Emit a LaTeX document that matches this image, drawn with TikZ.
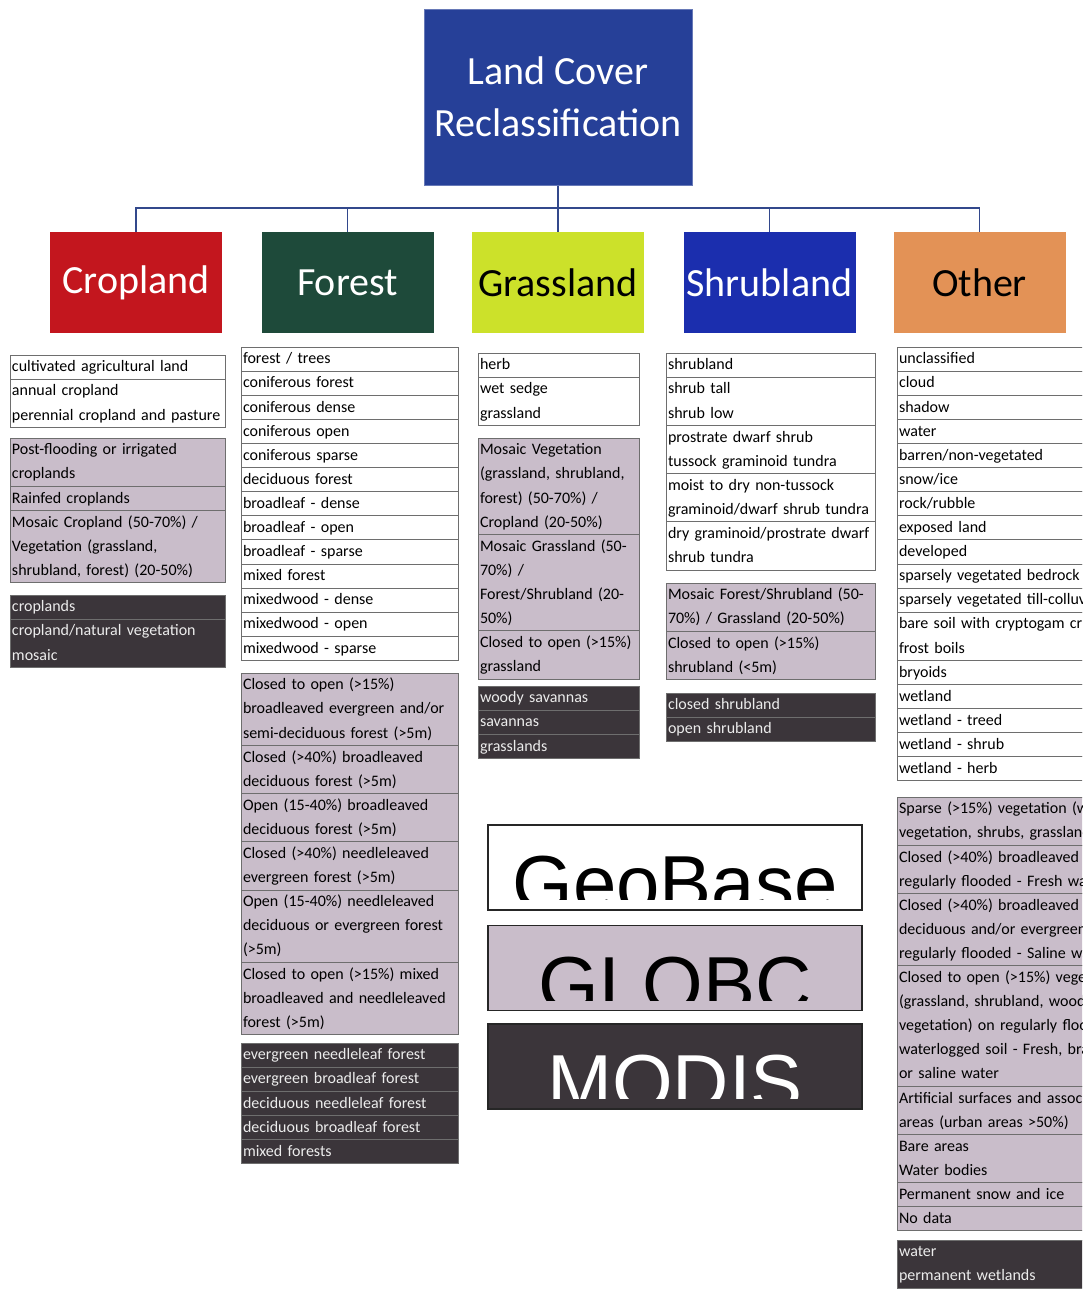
\documentclass[tikz,border=0pt]{standalone}
\usepackage{fontspec}
\setmainfont{Carlito}
\newfontfamily\legendfont{Liberation Sans}
\usepackage{xcolor}
\usepackage{tikz}
\usetikzlibrary{positioning}

\definecolor{titleblue}{RGB}{38,64,152}
\definecolor{linkblue}{RGB}{50,72,140}
\definecolor{cropred}{RGB}{195,22,30}
\definecolor{forestdark}{RGB}{30,74,58}
\definecolor{grasslime}{RGB}{204,225,42}
\definecolor{shrubblue}{RGB}{27,46,174}
\definecolor{otherorange}{RGB}{227,146,86}
\definecolor{globmauve}{RGB}{201,189,202}
\definecolor{modisdark}{RGB}{59,53,58}
\definecolor{celledge}{RGB}{110,110,110}
\definecolor{modistext}{RGB}{236,236,236}

\newcommand{\cellsize}{\fontsize{16}{24.1}\selectfont}

\begin{document}
\begin{tikzpicture}[x=1pt, y=-1pt,
    cell/.style={draw=celledge, line width=0.7pt, outer sep=0pt, inner xsep=2pt, inner ysep=0pt,
      align=left, font=\cellsize, execute at begin node=\strut, execute at end node=\strut},
    whitecell/.style={cell, fill=white, text=black},
    mauvecell/.style={cell, fill=globmauve, text=black},
    darkcell/.style={cell, fill=modisdark, text=modistext},
    cropcol/.style={text width=211pt},
    forestcol/.style={text width=213pt},
    grasscol/.style={text width=157pt},
    shrubcol/.style={text width=205pt},
    othercol/.style={text width=300pt},
    class/.style={minimum width=172pt, minimum height=101pt, inner sep=0pt, font=\fontsize{40}{48}\selectfont},
    link/.style={draw=linkblue, line width=1.4pt},
    legend/.style={minimum width=374pt, minimum height=85pt, inner sep=0pt, draw=black!85, line width=1.3pt}
  ]
    \useasboundingbox (0,0) rectangle (1082,1293);
    \clip (0,0) rectangle (1082,1293);

    % Title and the five classes
    \node[class, fill=titleblue, draw=titleblue!70!white, line width=1pt, text=white,
      minimum width=268pt, minimum height=176pt, align=center,
      font=\fontsize{40}{52}\selectfont] (title) at (558,97) {Land Cover\\Reclassification};
    \node[class, fill=cropred, text=white] (crop) at (136,282.5) {Cropland};
    \node[class, fill=forestdark, text=white] (forest) at (347.5,282.5) {Forest};
    \node[class, fill=grasslime] (grass) at (558,282.5) {Grassland};
    \node[class, fill=shrubblue, text=white] (shrub) at (769.5,282.5) {Shrubland};
    \node[class, fill=otherorange] (other) at (979.5,282.5) {Other};

    \coordinate (bus) at (558,208);
    \draw[link] (title.south) -- (bus);
    \foreach \n in {crop,forest,grass,shrub,other}
      \draw[link] (bus) -| (\n.north);

    % Cropland
    \node[whitecell, cropcol, anchor=north west] (cw1) at (10,355) {cultivated agricultural land};
    \node[whitecell, cropcol, below=0pt of cw1] (cw2) {annual cropland\\perennial cropland and pasture};
    \node[mauvecell, cropcol, anchor=north west] (cg1) at (10,438) {Post-flooding or irrigated\\croplands};
    \node[mauvecell, cropcol, below=0pt of cg1] (cg2) {Rainfed croplands};
    \node[mauvecell, cropcol, below=0pt of cg2] (cg3) {Mosaic Cropland (50-70\%) /\\Vegetation (grassland,\\shrubland, forest) (20-50\%)};
    \node[darkcell, cropcol, anchor=north west] (cd1) at (10,595) {croplands};
    \node[darkcell, cropcol, below=0pt of cd1] (cd2) {cropland/natural vegetation\\mosaic};

    % Forest
    \foreach \t [count=\i] in {forest / trees, coniferous forest, coniferous dense, coniferous open,
        coniferous sparse, deciduous forest, broadleaf - dense, broadleaf - open, broadleaf - sparse,
        mixed forest, mixedwood - dense, mixedwood - open, mixedwood - sparse}
      \node[whitecell, forestcol, anchor=north west] (fw\i) at (241,{347+(\i-1)*24.1}) {\t};
    \node[mauvecell, forestcol, anchor=north west] (fg1) at (241,673) {Closed to open (>15\%)\\broadleaved evergreen and/or\\semi-deciduous forest (>5m)};
    \node[mauvecell, forestcol, below=0pt of fg1] (fg2) {Closed (>40\%) broadleaved\\deciduous forest (>5m)};
    \node[mauvecell, forestcol, below=0pt of fg2] (fg3) {Open (15-40\%) broadleaved\\deciduous forest (>5m)};
    \node[mauvecell, forestcol, below=0pt of fg3] (fg4) {Closed (>40\%) needleleaved\\evergreen forest (>5m)};
    \node[mauvecell, forestcol, below=0pt of fg4] (fg5) {Open (15-40\%) needleleaved\\deciduous or evergreen forest\\(>5m)};
    \node[mauvecell, forestcol, below=0pt of fg5] (fg6) {Closed to open (>15\%) mixed\\broadleaved and needleleaved\\forest (>5m)};
    \foreach \t [count=\i] in {evergreen needleleaf forest, evergreen broadleaf forest,
        deciduous needleleaf forest, deciduous broadleaf forest, mixed forests}
      \node[darkcell, forestcol, anchor=north west] (fd\i) at (241,{1043+(\i-1)*24.1}) {\t};

    % Grassland
    \node[whitecell, grasscol, anchor=north west] (gw1) at (478,353) {herb};
    \node[whitecell, grasscol, below=0pt of gw1] (gw2) {wet sedge\\grassland};
    \node[mauvecell, grasscol, anchor=north west] (gg1) at (478,438) {Mosaic Vegetation\\(grassland, shrubland,\\forest) (50-70\%) /\\Cropland (20-50\%)};
    \node[mauvecell, grasscol, below=0pt of gg1] (gg2) {Mosaic Grassland (50-\\70\%) /\\Forest/Shrubland (20-\\50\%)};
    \node[mauvecell, grasscol, below=0pt of gg2] (gg3) {Closed to open (>15\%)\\grassland};
    \foreach \t [count=\i] in {woody savannas, savannas, grasslands}
      \node[darkcell, grasscol, anchor=north west] (gd\i) at (478,{686+(\i-1)*24.1}) {\t};

    % Shrubland
    \node[whitecell, shrubcol, anchor=north west] (sw1) at (666,353) {shrubland};
    \node[whitecell, shrubcol, below=0pt of sw1] (sw2) {shrub tall\\shrub low};
    \node[whitecell, shrubcol, below=0pt of sw2] (sw3) {prostrate dwarf shrub\\tussock graminoid tundra};
    \node[whitecell, shrubcol, below=0pt of sw3] (sw4) {moist to dry non-tussock\\graminoid/dwarf shrub tundra};
    \node[whitecell, shrubcol, below=0pt of sw4] (sw5) {dry graminoid/prostrate dwarf\\shrub tundra};
    \node[mauvecell, shrubcol, anchor=north west] (sg1) at (666,583) {Mosaic Forest/Shrubland (50-\\70\%) / Grassland (20-50\%)};
    \node[mauvecell, shrubcol, below=0pt of sg1] (sg2) {Closed to open (>15\%)\\shrubland (<5m)};
    \foreach \t [count=\i] in {closed shrubland, open shrubland}
      \node[darkcell, shrubcol, anchor=north west] (sd\i) at (666,{693+(\i-1)*24.1}) {\t};

    % Other (runs past the right edge)
    \foreach \t [count=\i] in {unclassified, cloud, shadow, water, barren/non-vegetated, snow/ice,
        rock/rubble, exposed land, developed, sparsely vegetated bedrock, sparsely vegetated till-colluvium}
      \node[whitecell, othercol, anchor=north west] (ow\i) at (897,{347+(\i-1)*24.1}) {\t};
    \node[whitecell, othercol, below=0pt of ow11] (ow12) {bare soil with cryptogam crust\\frost boils};
    \foreach \t [count=\i from 14] in {bryoids, wetland, wetland - treed, wetland - shrub, wetland - herb}
      \node[whitecell, othercol, anchor=north west] (ow\i) at (897,{347+(\i-1)*24.1}) {\t};
    \node[mauvecell, othercol, anchor=north west] (og1) at (897,797) {Sparse (>15\%) vegetation (woody\\vegetation, shrubs, grassland)};
    \node[mauvecell, othercol, below=0pt of og1] (og2) {Closed (>40\%) broadleaved forest\\regularly flooded - Fresh water};
    \node[mauvecell, othercol, below=0pt of og2] (og3) {Closed (>40\%) broadleaved\\deciduous and/or evergreen forest\\regularly flooded - Saline water};
    \node[mauvecell, othercol, below=0pt of og3] (og4) {Closed to open (>15\%) vegetation\\(grassland, shrubland, woody\\vegetation) on regularly flooded or\\waterlogged soil - Fresh, brackish\\or saline water};
    \node[mauvecell, othercol, below=0pt of og4] (og5) {Artificial surfaces and associated\\areas (urban areas >50\%)};
    \node[mauvecell, othercol, below=0pt of og5] (og6) {Bare areas\\Water bodies};
    \node[mauvecell, othercol, below=0pt of og6] (og7) {Permanent snow and ice};
    \node[mauvecell, othercol, below=0pt of og7] (og8) {No data};
    \node[darkcell, othercol, anchor=north west] (od1) at (897,1240) {water\\permanent wetlands};

    % Legend of sources
    \node[legend, fill=white] (geobase) at (675,867.5) {};
    \node[legend, fill=globmauve] (globcbox) at (675,968) {};
    \node[legend, fill=modisdark] (modisbox) at (675,1066.5) {};
    \foreach \b/\t/\c in {geobase/GeoBase/black, globcbox/GLOBC/black, modisbox/MODIS/white} {
      \begin{scope}
        \clip ([yshift=11pt]\b.south west) rectangle (\b.north east);
        \node[anchor=base, inner sep=0pt, text=\c, font=\legendfont\fontsize{78}{78}\selectfont] at (\b.south) {\t};
      \end{scope}
    }
\end{tikzpicture}
\end{document}
